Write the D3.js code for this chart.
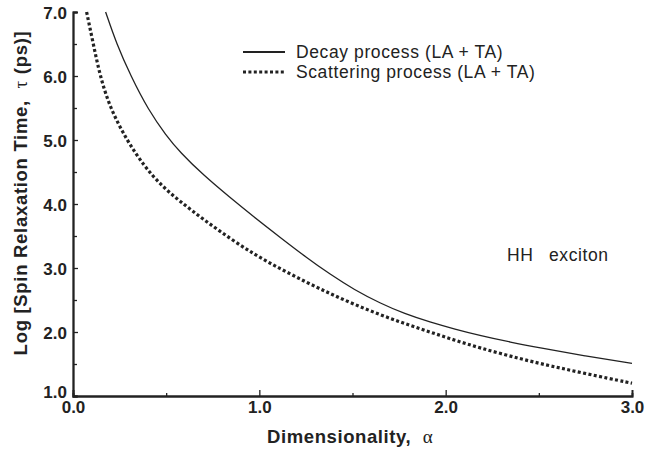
<!DOCTYPE html>
<html><head><meta charset="utf-8">
<script src="https://cdn.jsdelivr.net/npm/d3@7"></script>
<style>
html,body{margin:0;padding:0;background:#fff;}
svg{display:block;font-family:"Liberation Sans",Arial,Helvetica,sans-serif;}
</style></head>
<body>
<svg id="chart" width="646" height="452"></svg>
<script>
// ---- data ----
const decayAlpha = [0.175, 0.234, 0.31, 0.404, 0.5,  0.574, 0.7,  0.843, 0.97, 1.111, 1.25, 1.38, 1.51, 1.648, 1.78,  1.916, 2.05,  2.185, 2.35, 2.5,   2.75,  3.0];
const decayTau   = [7.0,   6.5,   6.0,  5.47,  5.07, 4.81,  4.45, 4.1,   3.8,  3.48,  3.17, 2.9,  2.66, 2.45,  2.285, 2.155, 2.045, 1.945, 1.84, 1.755, 1.625, 1.51];
const scatAlpha  = [0.073, 0.109, 0.145, 0.199, 0.288, 0.38, 0.47, 0.574, 0.7,  0.843, 0.98, 1.111, 1.25, 1.38, 1.51, 1.648, 1.78, 1.916, 2.05, 2.185, 2.35, 2.5,  2.75, 3.0];
const scatTau    = [7.0,   6.5,   6.0,   5.5,   5.0,   4.6,  4.3,  4.04,  3.76, 3.46,  3.2,  2.99,  2.78, 2.6,  2.43, 2.27,  2.13, 2.0,   1.87, 1.75,  1.62, 1.51, 1.35, 1.20];
const xTicks = [0, 1, 2, 3];
const xMinor = [0.5, 1.5, 2.5];
const yTicks = [1, 2, 3, 4, 5, 6, 7];
const yMinor = [1.5, 2.5, 3.5, 4.5, 5.5, 6.5];
const legendLabels = ["Decay process (LA + TA)", "Scattering process (LA + TA)"];

const svg = d3.select("#chart");
const x = d3.scaleLinear().domain([0, 3]).range([73, 632]);
const y = d3.scaleLinear().domain([1, 7]).range([396, 12]);
const ink = "#222";

// axes
const gx = svg.append("g").attr("transform", `translate(0,${y(1)})`)
  .call(d3.axisBottom(x).tickValues(xTicks).tickSize(-6).tickPadding(8).tickFormat(d3.format(".1f")));
const gxm = svg.append("g").attr("transform", `translate(0,${y(1)})`)
  .call(d3.axisBottom(x).tickValues(xMinor).tickSize(-3).tickFormat(""));
const gy = svg.append("g").attr("transform", `translate(${x(0)},0)`)
  .call(d3.axisLeft(y).tickValues(yTicks).tickSize(-5).tickPadding(6).tickFormat(d3.format(".1f")));
const gym = svg.append("g").attr("transform", `translate(${x(0)},0)`)
  .call(d3.axisLeft(y).tickValues(yMinor).tickSize(-4).tickFormat(""));

[gx, gxm, gy, gym].forEach(g => {
  g.select(".domain").attr("stroke", ink).attr("stroke-width", 1.8);
  g.selectAll(".tick line").attr("stroke", ink).attr("stroke-width", 1.3);
  g.selectAll(".tick text").attr("fill", ink).style("font-size", "17px").style("font-weight", "bold")
    .style("font-family", "'Liberation Sans',Arial,sans-serif");
});
gx.selectAll(".tick text").attr("dy", "0.55em");
gy.selectAll(".tick text").attr("dy", "0.36em");
gy.selectAll(".tick text").filter(d => d === 1).attr("dy", "0.1em");

// axis titles
svg.append("text").attr("x", 267).attr("y", 443).attr("text-anchor", "start")
  .attr("fill", ink).style("font-size", "18.5px").style("font-weight", "bold").style("letter-spacing", "0.6px")
  .call(t => {
    t.append("tspan").text("Dimensionality,\u00a0\u00a0");
    t.append("tspan").text("α").style("font-weight", "normal").style("font-family", "'Liberation Serif',serif").style("font-size", "19px");
  });

svg.append("text").attr("transform", "translate(27,193) rotate(-90)").attr("text-anchor", "middle")
  .attr("fill", ink).style("font-size", "18.5px").style("font-weight", "bold").style("letter-spacing", "0.7px")
  .call(t => {
    t.append("tspan").text("Log [Spin Relaxation Time,\u00a0\u00a0");
    t.append("tspan").text("τ").style("font-weight", "normal").style("font-family", "'Liberation Serif',serif").style("font-size", "19px");
    t.append("tspan").text("\u00a0(ps)]");
  });

// curves
const line = d3.line().x(d => x(d[0])).y(d => y(d[1])).curve(d3.curveBasis);
const decay = decayAlpha.map((a, i) => [a, decayTau[i]]);
const scat = scatAlpha.map((a, i) => [a, scatTau[i]]);

svg.append("path").datum(decay).attr("d", line).attr("fill", "none")
  .attr("stroke", ink).attr("stroke-width", 1.3);
svg.append("path").datum(scat).attr("d", line).attr("fill", "none")
  .attr("stroke", ink).attr("stroke-width", 3.2).attr("stroke-dasharray", "3,2.4");

// legend
const leg = svg.append("g");
const legY = [52, 72];
leg.append("line").attr("x1", 243).attr("x2", 285).attr("y1", legY[0]).attr("y2", legY[0])
  .attr("stroke", ink).attr("stroke-width", 2);
leg.append("line").attr("x1", 243).attr("x2", 285).attr("y1", legY[1]).attr("y2", legY[1])
  .attr("stroke", ink).attr("stroke-width", 3).attr("stroke-dasharray", "3,2.4");
legendLabels.forEach((s, i) => {
  leg.append("text").attr("x", 296).attr("y", legY[i] + 6).attr("fill", ink)
    .style("font-size", "17.5px").style("letter-spacing", "0.6px").text(s);
});

// annotation
svg.append("text").attr("x", 507).attr("y", 261).attr("fill", ink).style("font-size", "17.5px").style("letter-spacing", "0.6px").text("HH");
svg.append("text").attr("x", 549).attr("y", 261).attr("fill", ink).style("font-size", "17.5px").style("letter-spacing", "0.6px").text("exciton");
</script>
</body></html>
